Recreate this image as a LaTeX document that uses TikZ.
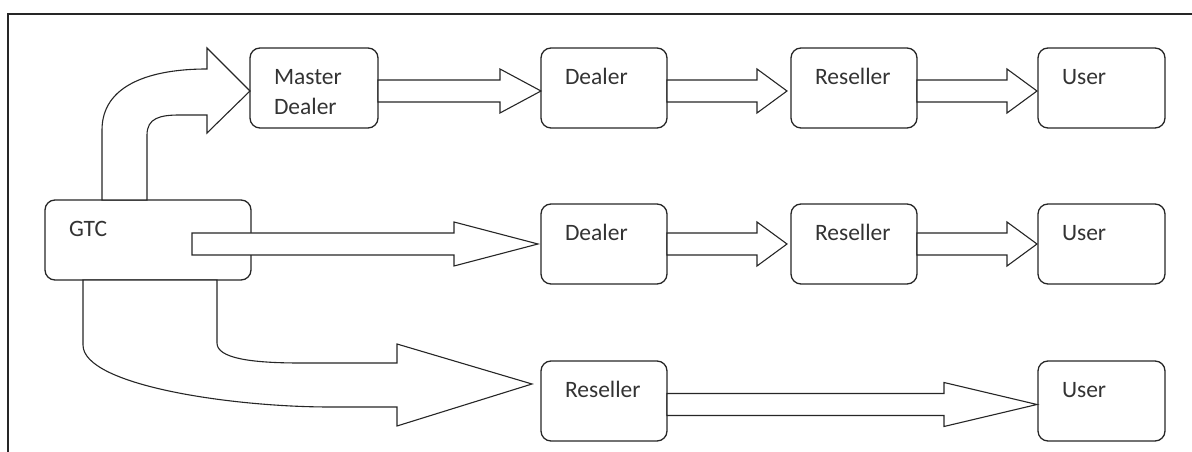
\documentclass[tikz,border=0pt]{standalone}
\usepackage{fontspec}
\setmainfont{Carlito}
\usetikzlibrary{calc}
\definecolor{ink}{HTML}{262626}
\definecolor{txt}{HTML}{333333}
\tikzset{
  stage/.style={draw=ink, line width=1.3pt, rounded corners=10pt,
    minimum width=126pt, minimum height=80pt, inner sep=0pt, outer sep=0pt},
  lbl/.style={anchor=base west, inner sep=0pt, outer sep=0pt, text=txt,
    font=\fontsize{23.5}{29}\selectfont},
  fatarrow/.style={draw=ink, fill=white, line width=1.1pt, line join=miter},
  frame/.style={draw=ink, line width=2pt},
}
% straight block arrow: #1 start point, #2 target node, #3 head length,
% #4 gap before the target, #5 shift of the axis from the target's centre
\newcommand\flowarrow[5]{%
  \draw[fatarrow] let \p1=#1, \p2=(#2.west) in
    (\x1,\y2+#5+11) -- (\x2-#4-#3,\y2+#5+11) -- (\x2-#4-#3,\y2+#5+22)
    -- (\x2-#4,\y2+#5) -- (\x2-#4-#3,\y2+#5-22) -- (\x2-#4-#3,\y2+#5-11)
    -- (\x1,\y2+#5-11) -- cycle;}
% box with its caption set near the top left corner
\newcommand\stagebox[4]{% #1 name, #2 position, #3 width, #4 caption
  \node[stage, minimum width=#3] (#1) at #2 {};
  \node[lbl] (#1-txt) at ($(#1.north west)+(24,-37)$) {#4};}

\begin{document}
\begin{tikzpicture}[x=1pt, y=1pt]
\useasboundingbox (0,0) rectangle (1192,452);

% outer frame (top and left edges)
\coordinate (fr-l) at (8,0);
\coordinate (fr-c) at (8,438);
\coordinate (fr-r) at (1192,438);
\draw[frame] (fr-l) -- (fr-c) -- (fr-r);

% first chain
\node[stage, minimum width=128pt] (md) at (314,364) {};
\node[lbl] (md-txt1) at ($(md.north west)+(24,-37)$) {Master};
\node[lbl] (md-txt2) at ($(md.north west)+(24,-67)$) {Dealer};
\stagebox{d1}{(604,364)}{126pt}{Dealer}
\stagebox{r1}{(854,364)}{126pt}{Reseller}
\stagebox{u1}{(1101.5,364)}{127pt}{User}

% second chain
\stagebox{gtc}{(148,212)}{206pt}{GTC}
\stagebox{d2}{(604,208)}{126pt}{Dealer}
\stagebox{r2}{(854,208)}{126pt}{Reseller}
\stagebox{u2}{(1101.5,208)}{127pt}{User}

% third chain
\stagebox{r3}{(604,51)}{126pt}{Reseller}
\stagebox{u3}{(1101.5,51)}{127pt}{User}

% straight block arrows
\flowarrow{(md.east)}{d1}{41}{0}{-3}
\flowarrow{(d1.east)}{r1}{30}{4}{-3}
\flowarrow{(r1.east)}{u1}{30}{1}{-3}
\flowarrow{($(gtc.east)+(-59,0)$)}{d2}{84}{3}{+0}
\flowarrow{(d2.east)}{r2}{30}{4}{+0}
\flowarrow{(r2.east)}{u2}{30}{1}{+0}
\flowarrow{(r3.east)}{u3}{93}{1}{-3.5}

% bent arrow from GTC up to the master dealer
\draw[fatarrow] let \p1=(gtc.north west), \p2=(md.west) in
  (\x1+57,\y1) -- (\x1+57,\y1+70)
  .. controls (\x1+57,\y1+115) and (\x2-100,\y2+19) .. (\x2-43,\y2+19)
  -- (\x2-43,\y2+40) -- (\x2,\y2-3) -- (\x2-43,\y2-45) -- (\x2-43,\y2-27)
  -- (\x2-70,\y2-27)
  .. controls (\x2-90,\y2-27) and (\x1+102,\y1+82) .. (\x1+102,\y1+65)
  -- (\x1+102,\y1) -- cycle;

% bent arrow from GTC down to the reseller
\draw[fatarrow] let \p1=(gtc.south west), \p2=(r3.west) in
  (\x1+38,\y1) -- (\x1+38,\y1-65)
  .. controls (\x1+38,\y1-105) and (\x1+185,\y2-6) .. (\x2-211,\y2-6)
  -- (\x2-144,\y2-6) -- (\x2-144,\y2-25) -- (\x2-9,\y2+17)
  -- (\x2-144,\y2+57) -- (\x2-144,\y2+38) -- (\x2-241,\y2+38)
  .. controls (\x2-291,\y2+38) and (\x1+172,\y1-78) .. (\x1+172,\y1-63)
  -- (\x1+172,\y1) -- cycle;
\end{tikzpicture}
\end{document}
